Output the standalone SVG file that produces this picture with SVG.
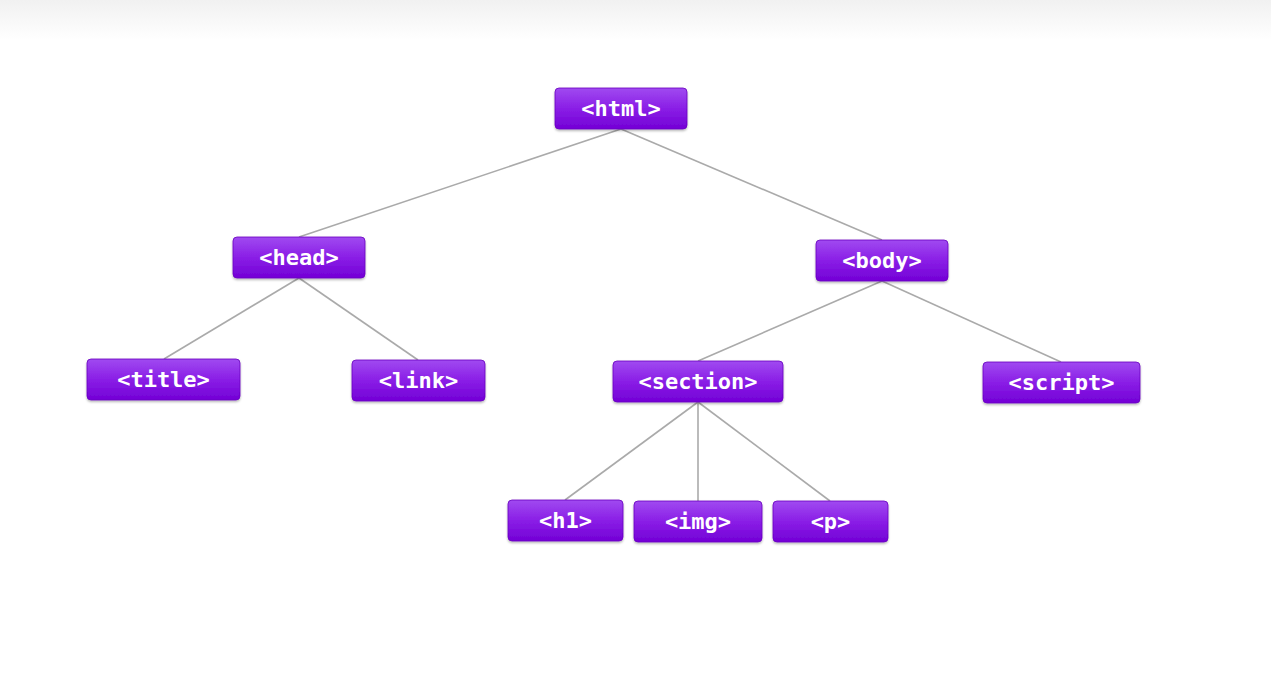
<svg xmlns="http://www.w3.org/2000/svg" width="1271" height="677" viewBox="0 0 1271 677">
<defs>
<linearGradient id="bg" x1="0" y1="0" x2="0" y2="1">
<stop offset="0" stop-color="#f1f1f1"/>
<stop offset="1" stop-color="#ffffff"/>
</linearGradient>
<linearGradient id="box" x1="0" y1="0" x2="0" y2="1">
<stop offset="0" stop-color="#a04af0"/>
<stop offset="0.5" stop-color="#8a1ee6"/>
<stop offset="1" stop-color="#7300d6"/>
</linearGradient>
<filter id="sh" x="-10%" y="-20%" width="120%" height="150%">
<feDropShadow dx="0" dy="1.5" stdDeviation="1.2" flood-color="#000" flood-opacity="0.3"/>
</filter>
</defs>
<style>
.n rect{fill:url(#box);stroke:#6a00c0;stroke-width:0.8;filter:url(#sh)}
.n text{fill:#fff;font-family:"DejaVu Sans Mono","Liberation Mono",monospace;font-size:22px;font-weight:bold;text-anchor:middle;dominant-baseline:central}
.e line{stroke:#aaaaaa;stroke-width:1.6}
</style>
<rect x="0" y="0" width="1271" height="677" fill="#fff"/>
<rect x="0" y="0" width="1271" height="40" fill="url(#bg)"/>
<g id="connectors" class="e">
<line x1="621" y1="129" x2="299" y2="237"/>
<line x1="621" y1="129" x2="882" y2="240"/>
<line x1="299" y1="278" x2="164" y2="359"/>
<line x1="299" y1="278" x2="418" y2="360"/>
<line x1="882" y1="281" x2="698" y2="361"/>
<line x1="882" y1="281" x2="1061" y2="362"/>
<line x1="698" y1="402" x2="565" y2="500"/>
<line x1="698" y1="402" x2="698" y2="501"/>
<line x1="698" y1="402" x2="830" y2="501"/>
</g>
<g id="html" class="n"><rect x="555" y="88" width="132" height="41" rx="4"/><text x="621" y="108.5">&lt;html&gt;</text></g>
<g id="head" class="n"><rect x="233" y="237" width="132" height="41" rx="4"/><text x="299" y="257.5">&lt;head&gt;</text></g>
<g id="body" class="n"><rect x="816" y="240" width="132" height="41" rx="4"/><text x="882" y="260.5">&lt;body&gt;</text></g>
<g id="title" class="n"><rect x="87" y="359" width="153" height="41" rx="4"/><text x="163.5" y="379.5">&lt;title&gt;</text></g>
<g id="link" class="n"><rect x="352" y="360" width="133" height="41" rx="4"/><text x="418.5" y="380.5">&lt;link&gt;</text></g>
<g id="section" class="n"><rect x="613" y="361" width="170" height="41" rx="4"/><text x="698" y="381.5">&lt;section&gt;</text></g>
<g id="script" class="n"><rect x="983" y="362" width="157" height="41" rx="4"/><text x="1061.5" y="382.5">&lt;script&gt;</text></g>
<g id="h1" class="n"><rect x="508" y="500" width="115" height="41" rx="4"/><text x="565.5" y="520.5">&lt;h1&gt;</text></g>
<g id="img" class="n"><rect x="634" y="501" width="128" height="41" rx="4"/><text x="698" y="521.5">&lt;img&gt;</text></g>
<g id="p" class="n"><rect x="773" y="501" width="115" height="41" rx="4"/><text x="830.5" y="521.5">&lt;p&gt;</text></g>
</svg>
